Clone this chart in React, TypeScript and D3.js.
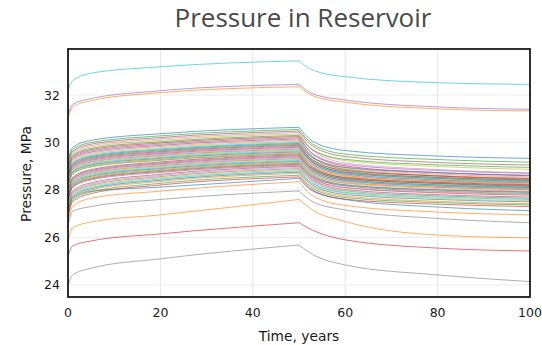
import React from "react";
import * as d3 from "d3";

const years = [0, 1, 5, 20, 50, 53, 60, 80, 100];

// pressure (MPa) of each simulation run at the times above
const pressureRuns: number[][] = [
  [29.24, 29.79, 30.09, 30.37, 30.64, 30.05, 29.66, 29.43, 29.33],
  [31.05, 31.5, 31.76, 32.1, 32.35, 31.97, 31.7, 31.42, 31.33],
  [29.15, 29.7, 30.0, 30.28, 30.55, 29.93, 29.51, 29.28, 29.17],
  [25.2, 25.64, 25.85, 26.15, 26.62, 26.3, 25.9, 25.55, 25.43],
  [31.15, 31.6, 31.85, 32.18, 32.45, 32.05, 31.79, 31.5, 31.4],
  [29.08, 29.63, 29.93, 30.21, 30.48, 29.84, 29.41, 29.16, 29.05],
  [29.02, 29.57, 29.87, 30.15, 30.42, 29.65, 29.14, 28.86, 28.72],
  [23.95, 24.42, 24.7, 25.1, 25.68, 25.28, 24.84, 24.42, 24.14],
  [28.96, 29.51, 29.81, 30.09, 30.36, 29.69, 29.24, 28.99, 28.87],
  [32.2, 32.6, 32.92, 33.19, 33.44, 33.05, 32.77, 32.52, 32.45],
  [27.1, 27.65, 27.95, 28.12, 28.49, 27.95, 27.6, 27.28, 27.13],
  [25.85, 26.4, 26.65, 26.95, 27.6, 27.15, 26.67, 26.1, 25.98],
  [28.9, 29.45, 29.75, 30.03, 30.3, 29.69, 29.29, 29.06, 28.95],
  [28.85, 29.4, 29.7, 29.98, 30.25, 29.51, 29.01, 28.73, 28.6],
  [28.8, 29.35, 29.65, 29.93, 30.2, 29.52, 29.07, 28.82, 28.7],
  [28.75, 29.3, 29.6, 29.88, 30.15, 29.38, 28.87, 28.59, 28.45],
  [28.7, 29.25, 29.55, 29.83, 30.1, 29.4, 28.94, 28.67, 28.55],
  [26.5, 27.1, 27.3, 27.6, 27.96, 27.5, 27.16, 26.8, 26.62],
  [28.65, 29.2, 29.5, 29.78, 30.05, 29.35, 28.89, 28.62, 28.5],
  [28.6, 29.15, 29.45, 29.73, 30.0, 29.28, 28.8, 28.53, 28.4],
  [28.56, 29.11, 29.41, 29.69, 29.96, 29.36, 28.95, 28.73, 28.62],
  [26.7, 27.3, 27.65, 27.95, 28.35, 27.75, 27.35, 27.07, 26.95],
  [28.52, 29.07, 29.37, 29.65, 29.92, 29.21, 28.74, 28.48, 28.35],
  [28.48, 29.03, 29.33, 29.61, 29.88, 29.25, 28.83, 28.59, 28.48],
  [28.44, 28.99, 29.29, 29.57, 29.84, 29.15, 28.68, 28.42, 28.3],
  [28.4, 28.95, 29.25, 29.53, 29.8, 29.18, 28.76, 28.53, 28.42],
  [28.36, 28.91, 29.21, 29.49, 29.76, 29.08, 28.63, 28.37, 28.25],
  [28.32, 28.87, 29.17, 29.45, 29.72, 29.12, 28.71, 28.49, 28.38],
  [28.28, 28.83, 29.13, 29.41, 29.68, 29.01, 28.57, 28.32, 28.2],
  [28.24, 28.79, 29.09, 29.37, 29.64, 29.05, 28.66, 28.43, 28.33],
  [28.2, 28.75, 29.05, 29.33, 29.6, 28.95, 28.51, 28.27, 28.15],
  [28.16, 28.71, 29.01, 29.29, 29.56, 28.98, 28.6, 28.38, 28.28],
  [28.12, 28.67, 28.97, 29.25, 29.52, 28.88, 28.45, 28.21, 28.1],
  [27.93, 28.53, 28.86, 29.18, 29.48, 28.91, 28.53, 28.32, 28.22],
  [27.89, 28.49, 28.82, 29.14, 29.44, 28.81, 28.4, 28.16, 28.05],
  [27.85, 28.45, 28.78, 29.1, 29.4, 28.85, 28.48, 28.28, 28.18],
  [27.81, 28.41, 28.74, 29.06, 29.36, 28.75, 28.34, 28.11, 28.0],
  [27.77, 28.37, 28.7, 29.02, 29.32, 28.78, 28.42, 28.22, 28.12],
  [27.73, 28.33, 28.66, 28.98, 29.28, 28.68, 28.28, 28.06, 27.95],
  [27.69, 28.29, 28.62, 28.94, 29.24, 28.72, 28.37, 28.17, 28.08],
  [27.65, 28.25, 28.58, 28.9, 29.2, 28.61, 28.22, 28.0, 27.9],
  [27.61, 28.21, 28.54, 28.86, 29.16, 28.65, 28.3, 28.11, 28.02],
  [27.57, 28.17, 28.5, 28.82, 29.12, 28.55, 28.17, 27.95, 27.85],
  [27.53, 28.13, 28.46, 28.78, 29.08, 28.49, 28.1, 27.88, 27.78],
  [27.49, 28.09, 28.42, 28.74, 29.04, 28.54, 28.2, 28.01, 27.92],
  [27.3, 27.95, 28.3, 28.66, 29.0, 28.41, 28.02, 27.8, 27.7],
  [27.25, 27.9, 28.25, 28.61, 28.95, 28.44, 28.1, 27.91, 27.82],
  [27.2, 27.85, 28.2, 28.56, 28.9, 28.34, 27.96, 27.75, 27.65],
  [27.15, 27.8, 28.15, 28.51, 28.85, 28.26, 27.87, 27.65, 27.55],
  [27.1, 27.75, 28.1, 28.46, 28.8, 28.26, 27.9, 27.7, 27.6],
  [27.05, 27.7, 28.05, 28.41, 28.75, 28.19, 27.81, 27.6, 27.5],
  [27.0, 27.65, 28.0, 28.36, 28.7, 28.12, 27.74, 27.52, 27.42],
  [26.92, 27.57, 27.92, 28.28, 28.62, 28.06, 27.68, 27.47, 27.37],
  [26.85, 27.5, 27.85, 28.21, 28.55, 27.99, 27.61, 27.4, 27.3],
];

const xTicks = [0, 20, 40, 60, 80, 100];
const yTicks = [24, 26, 28, 30, 32];

const W = 542;
const H = 345;
const m = { left: 68, right: 530, top: 49, bottom: 297 };
const tickFont = "DejaVu Sans, sans-serif";

export default function App() {
  const x = d3.scaleLinear().domain([0, 100]).range([m.left, m.right]);
  const y = d3.scaleLinear().domain([23.49, 33.94]).range([m.bottom, m.top]);
  const color = d3.scaleOrdinal<number, string>(d3.schemeCategory10);

  const line = d3
    .line<[number, number]>()
    .x((d) => x(d[0]))
    .y((d) => y(d[1]))
    .curve(d3.curveMonotoneX);

  // injection stops at year 50: draw the build-up and fall-off separately so the kink stays sharp
  const split = years.indexOf(50);

  return (
    <svg
      width={W}
      height={H}
      style={{ position: "absolute", left: 0, top: 0, background: "#fff" }}
    >
      <defs>
        <clipPath id="plot">
          <rect x={m.left} y={m.top} width={m.right - m.left} height={m.bottom - m.top} />
        </clipPath>
      </defs>

      {/* grid */}
      {xTicks.map((t) => (
        <line key={"gx" + t} x1={x(t)} x2={x(t)} y1={m.top} y2={m.bottom} stroke="#e5e5e5" strokeWidth={1} />
      ))}
      {yTicks.map((t) => (
        <line key={"gy" + t} x1={m.left} x2={m.right} y1={y(t)} y2={y(t)} stroke="#ececec" strokeWidth={1} />
      ))}

      <g clipPath="url(#plot)" fill="none">
        {pressureRuns.map((run, i) => {
          const pts = years.map((t, k) => [t, run[k]] as [number, number]);
          return (
            <g key={i} stroke={color(i % 10)} strokeWidth={0.75} strokeOpacity={0.85}>
              <path d={line(pts.slice(0, split + 1)) || ""} />
              <path d={line(pts.slice(split)) || ""} />
            </g>
          );
        })}
      </g>

      <rect
        x={m.left}
        y={m.top}
        width={m.right - m.left}
        height={m.bottom - m.top}
        fill="none"
        stroke="#1a1a1a"
        strokeWidth={1.8}
      />

      {xTicks.map((t) => (
        <text key={"xl" + t} x={x(t)} y={317} textAnchor="middle" fontFamily={tickFont} fontSize={12.5} fill="#1a1a1a">
          {t}
        </text>
      ))}
      {yTicks.map((t) => (
        <text key={"yl" + t} x={60} y={y(t) + 4.5} textAnchor="end" fontFamily={tickFont} fontSize={12.5} fill="#1a1a1a">
          {t}
        </text>
      ))}

      <text x={299} y={341} textAnchor="middle" fontFamily={tickFont} fontSize={13.8} fill="#1a1a1a">
        Time, years
      </text>
      <text
        transform={`translate(31,174) rotate(-90)`}
        textAnchor="middle"
        fontFamily={tickFont}
        fontSize={13.8}
        fill="#1a1a1a"
      >
        Pressure, MPa
      </text>

      <text x={303} y={27} textAnchor="middle" fontFamily="Open Sans, sans-serif" fontSize={26} fill="#4a4a4a">
        Pressure in Reservoir
      </text>
    </svg>
  );
}
